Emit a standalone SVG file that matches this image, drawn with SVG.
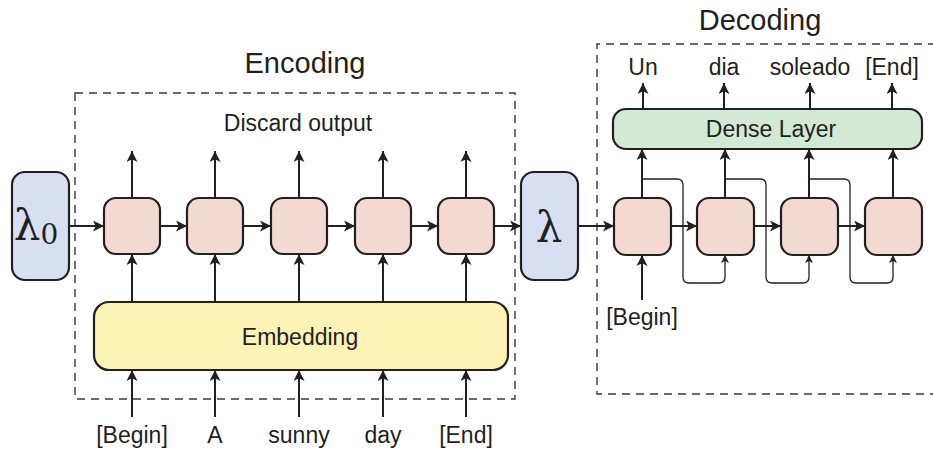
<svg xmlns="http://www.w3.org/2000/svg" width="933" height="451" viewBox="0 0 933 451">
  <defs>
    <marker id="ah" viewBox="0 0 10 10" refX="10" refY="5" markerWidth="12" markerHeight="11" markerUnits="userSpaceOnUse" orient="auto">
      <path d="M0,0 L10,5 L0,10 L2.5,5 Z" fill="#231f20"/>
    </marker>
    <marker id="ahs" viewBox="0 0 10 10" refX="10" refY="5" markerWidth="9" markerHeight="8" markerUnits="userSpaceOnUse" orient="auto">
      <path d="M0,0 L10,5 L0,10 L2.5,5 Z" fill="#231f20"/>
    </marker>
    <style>
      .frame { fill: none; stroke: #3a3a3a; stroke-width: 1.4; stroke-dasharray: 8 6; }
      .lam { fill: #d8dff1; stroke: #231f20; stroke-width: 2.2; }
      .cell { fill: #f2dad3; stroke: #231f20; stroke-width: 2.2; }
      .emb { fill: #fcf3b4; stroke: #231f20; stroke-width: 2.2; }
      .dense { fill: #d2e9d5; stroke: #231f20; stroke-width: 2.2; }
      .arr { fill: none; stroke: #231f20; stroke-width: 2; marker-end: url(#ah); }
      .skip { fill: none; stroke: #231f20; stroke-width: 1.3; marker-end: url(#ahs); }
      text { font-family: "Liberation Sans", Arial, sans-serif; fill: #231f20; }
      .lbl { font-size: 23px; text-anchor: middle; }
      .title { font-size: 29px; text-anchor: middle; }
      .greek { font-family: "DejaVu Serif", "Liberation Serif", serif; font-size: 42px; text-anchor: middle; }
    </style>
  </defs>

  <!-- section frames -->
  <g id="encoding-frame">
    <rect class="frame" x="75" y="93" width="440" height="306"/>
    <text class="title" x="305" y="73">Encoding</text>
    <text class="lbl" x="298" y="131">Discard output</text>
  </g>
  <g id="decoding-frame">
    <path class="frame" d="M950,44 H597 V394 H950"/>
    <text class="title" x="760" y="30">Decoding</text>
  </g>

  <!-- initial and transferred state -->
  <g id="lambda0">
    <rect class="lam" x="12" y="172" width="57" height="108" rx="13"/>
    <text class="greek" x="36" y="240">λ<tspan font-size="28" dy="4">0</tspan></text>
  </g>
  <g id="lambda">
    <rect class="lam" x="521" y="172" width="57" height="108" rx="13"/>
    <text class="greek" x="549" y="242">λ</text>
  </g>

  <!-- encoder cells -->
  <g id="enc1"><rect class="cell" x="104" y="198" width="56" height="56" rx="12"/></g>
  <g id="enc2"><rect class="cell" x="187" y="198" width="56" height="56" rx="12"/></g>
  <g id="enc3"><rect class="cell" x="271" y="198" width="56" height="56" rx="12"/></g>
  <g id="enc4"><rect class="cell" x="355" y="198" width="56" height="56" rx="12"/></g>
  <g id="enc5"><rect class="cell" x="438" y="198" width="56" height="56" rx="12"/></g>

  <g id="embedding">
    <rect class="emb" x="94" y="302" width="414" height="68" rx="15"/>
    <text class="lbl" x="300" y="345">Embedding</text>
  </g>

  <!-- decoder cells -->
  <g id="dec1"><rect class="cell" x="614" y="198" width="57" height="57" rx="12"/></g>
  <g id="dec2"><rect class="cell" x="697" y="198" width="57" height="57" rx="12"/></g>
  <g id="dec3"><rect class="cell" x="781" y="198" width="57" height="57" rx="12"/></g>
  <g id="dec4"><rect class="cell" x="865" y="198" width="57" height="57" rx="12"/></g>

  <g id="dense-layer">
    <rect class="dense" x="613" y="109" width="309" height="40" rx="13"/>
    <text class="lbl" x="771" y="137">Dense Layer</text>
  </g>

  <!-- word labels -->
  <g id="input-words">
    <text class="lbl" x="132" y="443">[Begin]</text>
    <text class="lbl" x="215" y="443">A</text>
    <text class="lbl" x="299" y="443">sunny</text>
    <text class="lbl" x="383" y="443">day</text>
    <text class="lbl" x="466" y="443">[End]</text>
  </g>
  <g id="output-words">
    <text class="lbl" x="643" y="75">Un</text>
    <text class="lbl" x="724" y="75">dia</text>
    <text class="lbl" x="810" y="75">soleado</text>
    <text class="lbl" x="892" y="75">[End]</text>
  </g>
  <g id="dec-start">
    <text class="lbl" x="642" y="325">[Begin]</text>
  </g>

  <!-- connectors -->
  <g id="connectors">
    <!-- words into embedding -->
    <path class="arr" d="M132,417 V370"/>
    <path class="arr" d="M215,417 V370"/>
    <path class="arr" d="M299,417 V370"/>
    <path class="arr" d="M383,417 V370"/>
    <path class="arr" d="M466,417 V370"/>
    <!-- embedding into encoder cells -->
    <path class="arr" d="M132,302 V254"/>
    <path class="arr" d="M215,302 V254"/>
    <path class="arr" d="M299,302 V254"/>
    <path class="arr" d="M383,302 V254"/>
    <path class="arr" d="M466,302 V254"/>
    <!-- discarded encoder outputs -->
    <path class="arr" d="M132,198 V151"/>
    <path class="arr" d="M215,198 V151"/>
    <path class="arr" d="M299,198 V151"/>
    <path class="arr" d="M383,198 V151"/>
    <path class="arr" d="M466,198 V151"/>
    <!-- recurrent state along the encoder -->
    <path class="arr" d="M69,226 H104"/>
    <path class="arr" d="M160,226 H187"/>
    <path class="arr" d="M243,226 H271"/>
    <path class="arr" d="M327,226 H355"/>
    <path class="arr" d="M411,226 H438"/>
    <path class="arr" d="M494,226 H521"/>
    <path class="arr" d="M578,226 H614"/>
    <!-- recurrent state along the decoder -->
    <path class="arr" d="M671,226 H697"/>
    <path class="arr" d="M754,226 H781"/>
    <path class="arr" d="M838,226 H865"/>
    <!-- decoder start token -->
    <path class="arr" d="M642,300 V255"/>
    <!-- decoder cells into dense layer -->
    <path class="arr" d="M642,198 V149"/>
    <path class="arr" d="M725,198 V149"/>
    <path class="arr" d="M809,198 V149"/>
    <path class="arr" d="M893,198 V149"/>
    <!-- dense layer outputs -->
    <path class="arr" d="M643,109 V83"/>
    <path class="arr" d="M724,109 V83"/>
    <path class="arr" d="M810,109 V83"/>
    <path class="arr" d="M892,109 V83"/>
    <!-- previous output fed to the next decoder step -->
    <path class="skip" d="M642,179 H677 Q683,179 683,185 V277 Q683,283 689,283 H719 Q725,283 725,277 V255"/>
    <path class="skip" d="M725,179 H760 Q766,179 766,185 V277 Q766,283 772,283 H803 Q809,283 809,277 V255"/>
    <path class="skip" d="M809,179 H844 Q850,179 850,185 V277 Q850,283 856,283 H887 Q893,283 893,277 V255"/>
  </g>
</svg>
